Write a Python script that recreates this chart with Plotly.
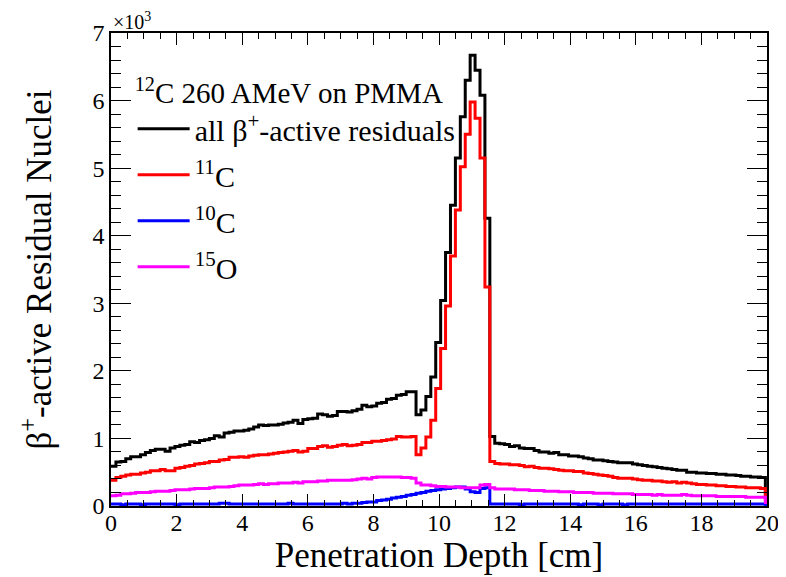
import plotly.graph_objects as go

# Histogram: bin width 0.15 cm starting at 0 cm; values in units of 10^3
BIN_WIDTH = 0.15
X_START = 0.0

all_beta = [
    0.59, 0.65, 0.66, 0.70, 0.73, 0.73, 0.76, 0.79, 0.82, 0.84,
    0.84, 0.81, 0.86, 0.88, 0.90, 0.91, 0.95, 0.94, 0.97, 0.98,
    1.00, 1.04, 1.02, 1.08, 1.09, 1.11, 1.11, 1.12, 1.14, 1.17,
    1.20, 1.19, 1.20, 1.20, 1.21, 1.23, 1.24, 1.27, 1.22, 1.28,
    1.29, 1.30, 1.36, 1.35, 1.33, 1.34, 1.40, 1.40, 1.39, 1.41,
    1.43, 1.49, 1.47, 1.48, 1.52, 1.53, 1.58, 1.59, 1.64, 1.65,
    1.69, 1.69,
    1.35, 1.42, 1.62, 1.91, 2.42, 3.04, 3.75, 4.45, 5.15, 5.76,
    6.30, 6.67, 6.45, 6.08, 4.26,
    1.03, 0.93, 0.92, 0.91, 0.88, 0.89, 0.86, 0.85, 0.85, 0.82,
    0.80, 0.80, 0.78, 0.79, 0.76, 0.76, 0.74, 0.74, 0.73, 0.71,
    0.70, 0.68, 0.68, 0.67, 0.66, 0.65, 0.64, 0.64, 0.64, 0.62,
    0.61, 0.60, 0.59, 0.58, 0.57, 0.56, 0.55, 0.54, 0.53, 0.53,
    0.50, 0.50, 0.49, 0.49, 0.48, 0.48, 0.47, 0.47, 0.46, 0.46,
    0.45, 0.44, 0.44, 0.43, 0.43, 0.42, 0.13,
]

c11 = [
    0.38, 0.42, 0.44, 0.46, 0.47, 0.47, 0.49, 0.50, 0.52, 0.52,
    0.54, 0.52, 0.52, 0.56, 0.57, 0.59, 0.60, 0.62, 0.63, 0.64,
    0.66, 0.66, 0.68, 0.69, 0.72, 0.72, 0.73, 0.72, 0.74, 0.75,
    0.76, 0.76, 0.77, 0.78, 0.79, 0.80, 0.81, 0.82, 0.80, 0.81,
    0.85, 0.85, 0.88, 0.89, 0.87, 0.88, 0.90, 0.91, 0.89, 0.90,
    0.91, 0.94, 0.94, 0.96, 0.96, 0.97, 0.98, 0.99, 1.03, 1.02,
    1.02, 1.03,
    0.76, 0.86, 1.02, 1.27, 1.74, 2.33, 2.96, 3.70, 4.38, 5.02,
    5.50, 5.98, 5.74, 5.15, 3.24,
    0.66, 0.63, 0.62, 0.62, 0.61, 0.61, 0.60, 0.58, 0.59, 0.57,
    0.56, 0.56, 0.55, 0.54, 0.53, 0.52, 0.52, 0.51, 0.51, 0.49,
    0.48, 0.47, 0.46, 0.45, 0.44, 0.42, 0.41, 0.41, 0.41, 0.40,
    0.39, 0.38, 0.38, 0.37, 0.37, 0.36, 0.35, 0.36, 0.34, 0.35,
    0.34, 0.33, 0.32, 0.32, 0.31, 0.31, 0.30, 0.30, 0.29, 0.29,
    0.28, 0.28, 0.27, 0.27, 0.27, 0.26, 0.08,
]

c10 = [
    0.03, 0.03, 0.02, 0.03, 0.03, 0.03, 0.02, 0.03, 0.03, 0.03,
    0.03, 0.03, 0.03, 0.02, 0.03, 0.03, 0.03, 0.03, 0.03, 0.03,
    0.03, 0.03, 0.04, 0.04, 0.03, 0.03, 0.03, 0.03, 0.03, 0.03,
    0.03, 0.03, 0.03, 0.03, 0.03, 0.03, 0.04, 0.03, 0.03, 0.03,
    0.03, 0.03, 0.03, 0.03, 0.03, 0.03, 0.03, 0.04, 0.03, 0.04,
    0.04, 0.05, 0.06, 0.06, 0.08, 0.09, 0.10, 0.12, 0.13, 0.14,
    0.16, 0.17, 0.19, 0.20, 0.22, 0.23, 0.24, 0.25, 0.26, 0.27,
    0.28, 0.28, 0.25, 0.21, 0.20, 0.26, 0.27,
    0.03, 0.03, 0.03, 0.03, 0.03, 0.03, 0.02, 0.03, 0.03, 0.03,
    0.03, 0.03, 0.03, 0.03, 0.03, 0.03, 0.03, 0.03, 0.02, 0.03,
    0.03, 0.03, 0.02, 0.03, 0.03, 0.03, 0.03, 0.02, 0.03, 0.03,
    0.03, 0.03, 0.03, 0.03, 0.03, 0.03, 0.03, 0.03, 0.03, 0.03,
    0.03, 0.03, 0.03, 0.03, 0.03, 0.03, 0.03, 0.03, 0.03, 0.03,
    0.03, 0.03, 0.03, 0.03, 0.03, 0.03, 0.01,
]

o15 = [
    0.15, 0.16, 0.18, 0.18, 0.19, 0.20, 0.20, 0.20, 0.21, 0.22,
    0.22, 0.22, 0.23, 0.24, 0.24, 0.24, 0.25, 0.26, 0.26, 0.26,
    0.27, 0.28, 0.28, 0.28, 0.29, 0.30, 0.31, 0.31, 0.31, 0.32,
    0.33, 0.32, 0.33, 0.33, 0.34, 0.34, 0.34, 0.35, 0.34, 0.36,
    0.36, 0.36, 0.37, 0.37, 0.38, 0.38, 0.38, 0.38, 0.38, 0.39,
    0.40, 0.41, 0.40, 0.42, 0.43, 0.43, 0.43, 0.43, 0.43, 0.42,
    0.42, 0.41,
    0.34, 0.31, 0.31, 0.30, 0.29, 0.29, 0.28, 0.28, 0.28, 0.27,
    0.27, 0.27, 0.27, 0.31, 0.32,
    0.27, 0.25, 0.25, 0.25, 0.25, 0.24, 0.24, 0.24, 0.23, 0.23,
    0.23, 0.22, 0.22, 0.22, 0.21, 0.21, 0.21, 0.20, 0.20, 0.20,
    0.20, 0.19, 0.19, 0.19, 0.19, 0.18, 0.18, 0.18, 0.18, 0.17,
    0.17, 0.17, 0.17, 0.16, 0.17, 0.16, 0.16, 0.16, 0.16, 0.17,
    0.16, 0.15, 0.15, 0.15, 0.15, 0.15, 0.14, 0.14, 0.14, 0.14,
    0.14, 0.14, 0.13, 0.13, 0.13, 0.13, 0.05,
]

series = [
    ("all β<sup>+</sup>-active residuals", all_beta, "#000000"),
    ("<sup>11</sup>C", c11, "#ff0000"),
    ("<sup>10</sup>C", c10, "#0000ff"),
    ("<sup>15</sup>O", o15, "#ff00ff"),
]

FONT = "Liberation Serif, Times New Roman, serif"

fig = go.Figure()
for i, (name, vals, color) in enumerate(series):
    n = len(vals)
    edges = [X_START + BIN_WIDTH * k for k in range(n + 1)]
    yy = list(vals) + [vals[-1]]
    fig.add_trace(go.Scatter(
        x=edges, y=yy, mode="lines", name=name,
        line=dict(color=color, width=3, shape="hv"),
        legendgroup=f"g{i}", showlegend=True,
    ))

# page body has an 8 px default margin, so the figure is 8 px smaller
fig.update_layout(
    width=778, height=569,
    margin=dict(l=103, r=19, t=25, b=71),
    paper_bgcolor="white", plot_bgcolor="white",
    font=dict(family=FONT, color="black", size=24),
    showlegend=True,
    legend=dict(
        x=0.033, y=0.932, xanchor="left", yanchor="top",
        bgcolor="rgba(0,0,0,0)", borderwidth=0,
        font=dict(family=FONT, size=30, color="black"),
        title=dict(text="<sup>12</sup>C 260 AMeV on PMMA", side="top",
                   font=dict(family=FONT, size=29, color="black")),
        tracegroupgap=4, itemwidth=52,
    ),
    xaxis=dict(
        range=[0, 20], dtick=2, tick0=0, automargin=False,
        showline=True, linecolor="black", linewidth=1.5, mirror="ticks",
        ticks="inside", ticklen=12, tickwidth=1, tickcolor="black",
        minor=dict(dtick=0.5, ticks="inside", ticklen=6, tickcolor="black", tickwidth=1),
        showgrid=False, zeroline=False, ticklabelstandoff=-6,
        tickfont=dict(family=FONT, size=24, color="black"),
        title=dict(text="Penetration Depth [cm]", standoff=2,
                   font=dict(family=FONT, size=35, color="black")),
    ),
    yaxis=dict(
        range=[0, 7], dtick=1, tick0=0, automargin=False,
        showline=True, linecolor="black", linewidth=1.5, mirror="ticks",
        ticks="inside", ticklen=20, tickwidth=1, tickcolor="black",
        minor=dict(dtick=0.2, ticks="inside", ticklen=10, tickcolor="black", tickwidth=1),
        showgrid=False, zeroline=False,
        tickfont=dict(family=FONT, size=24, color="black"),
        title=dict(text="β<sup>+</sup>-active Residual Nuclei", standoff=30,
                   font=dict(family=FONT, size=35, color="black")),
    ),
    annotations=[dict(
        x=0, y=1, xref="paper", yref="paper", xanchor="left", yanchor="bottom",
        text="×10<sup>3</sup>", showarrow=False, yshift=-2,
        font=dict(family=FONT, size=20, color="black"),
    )],
)

fig.write_html("out.html")
